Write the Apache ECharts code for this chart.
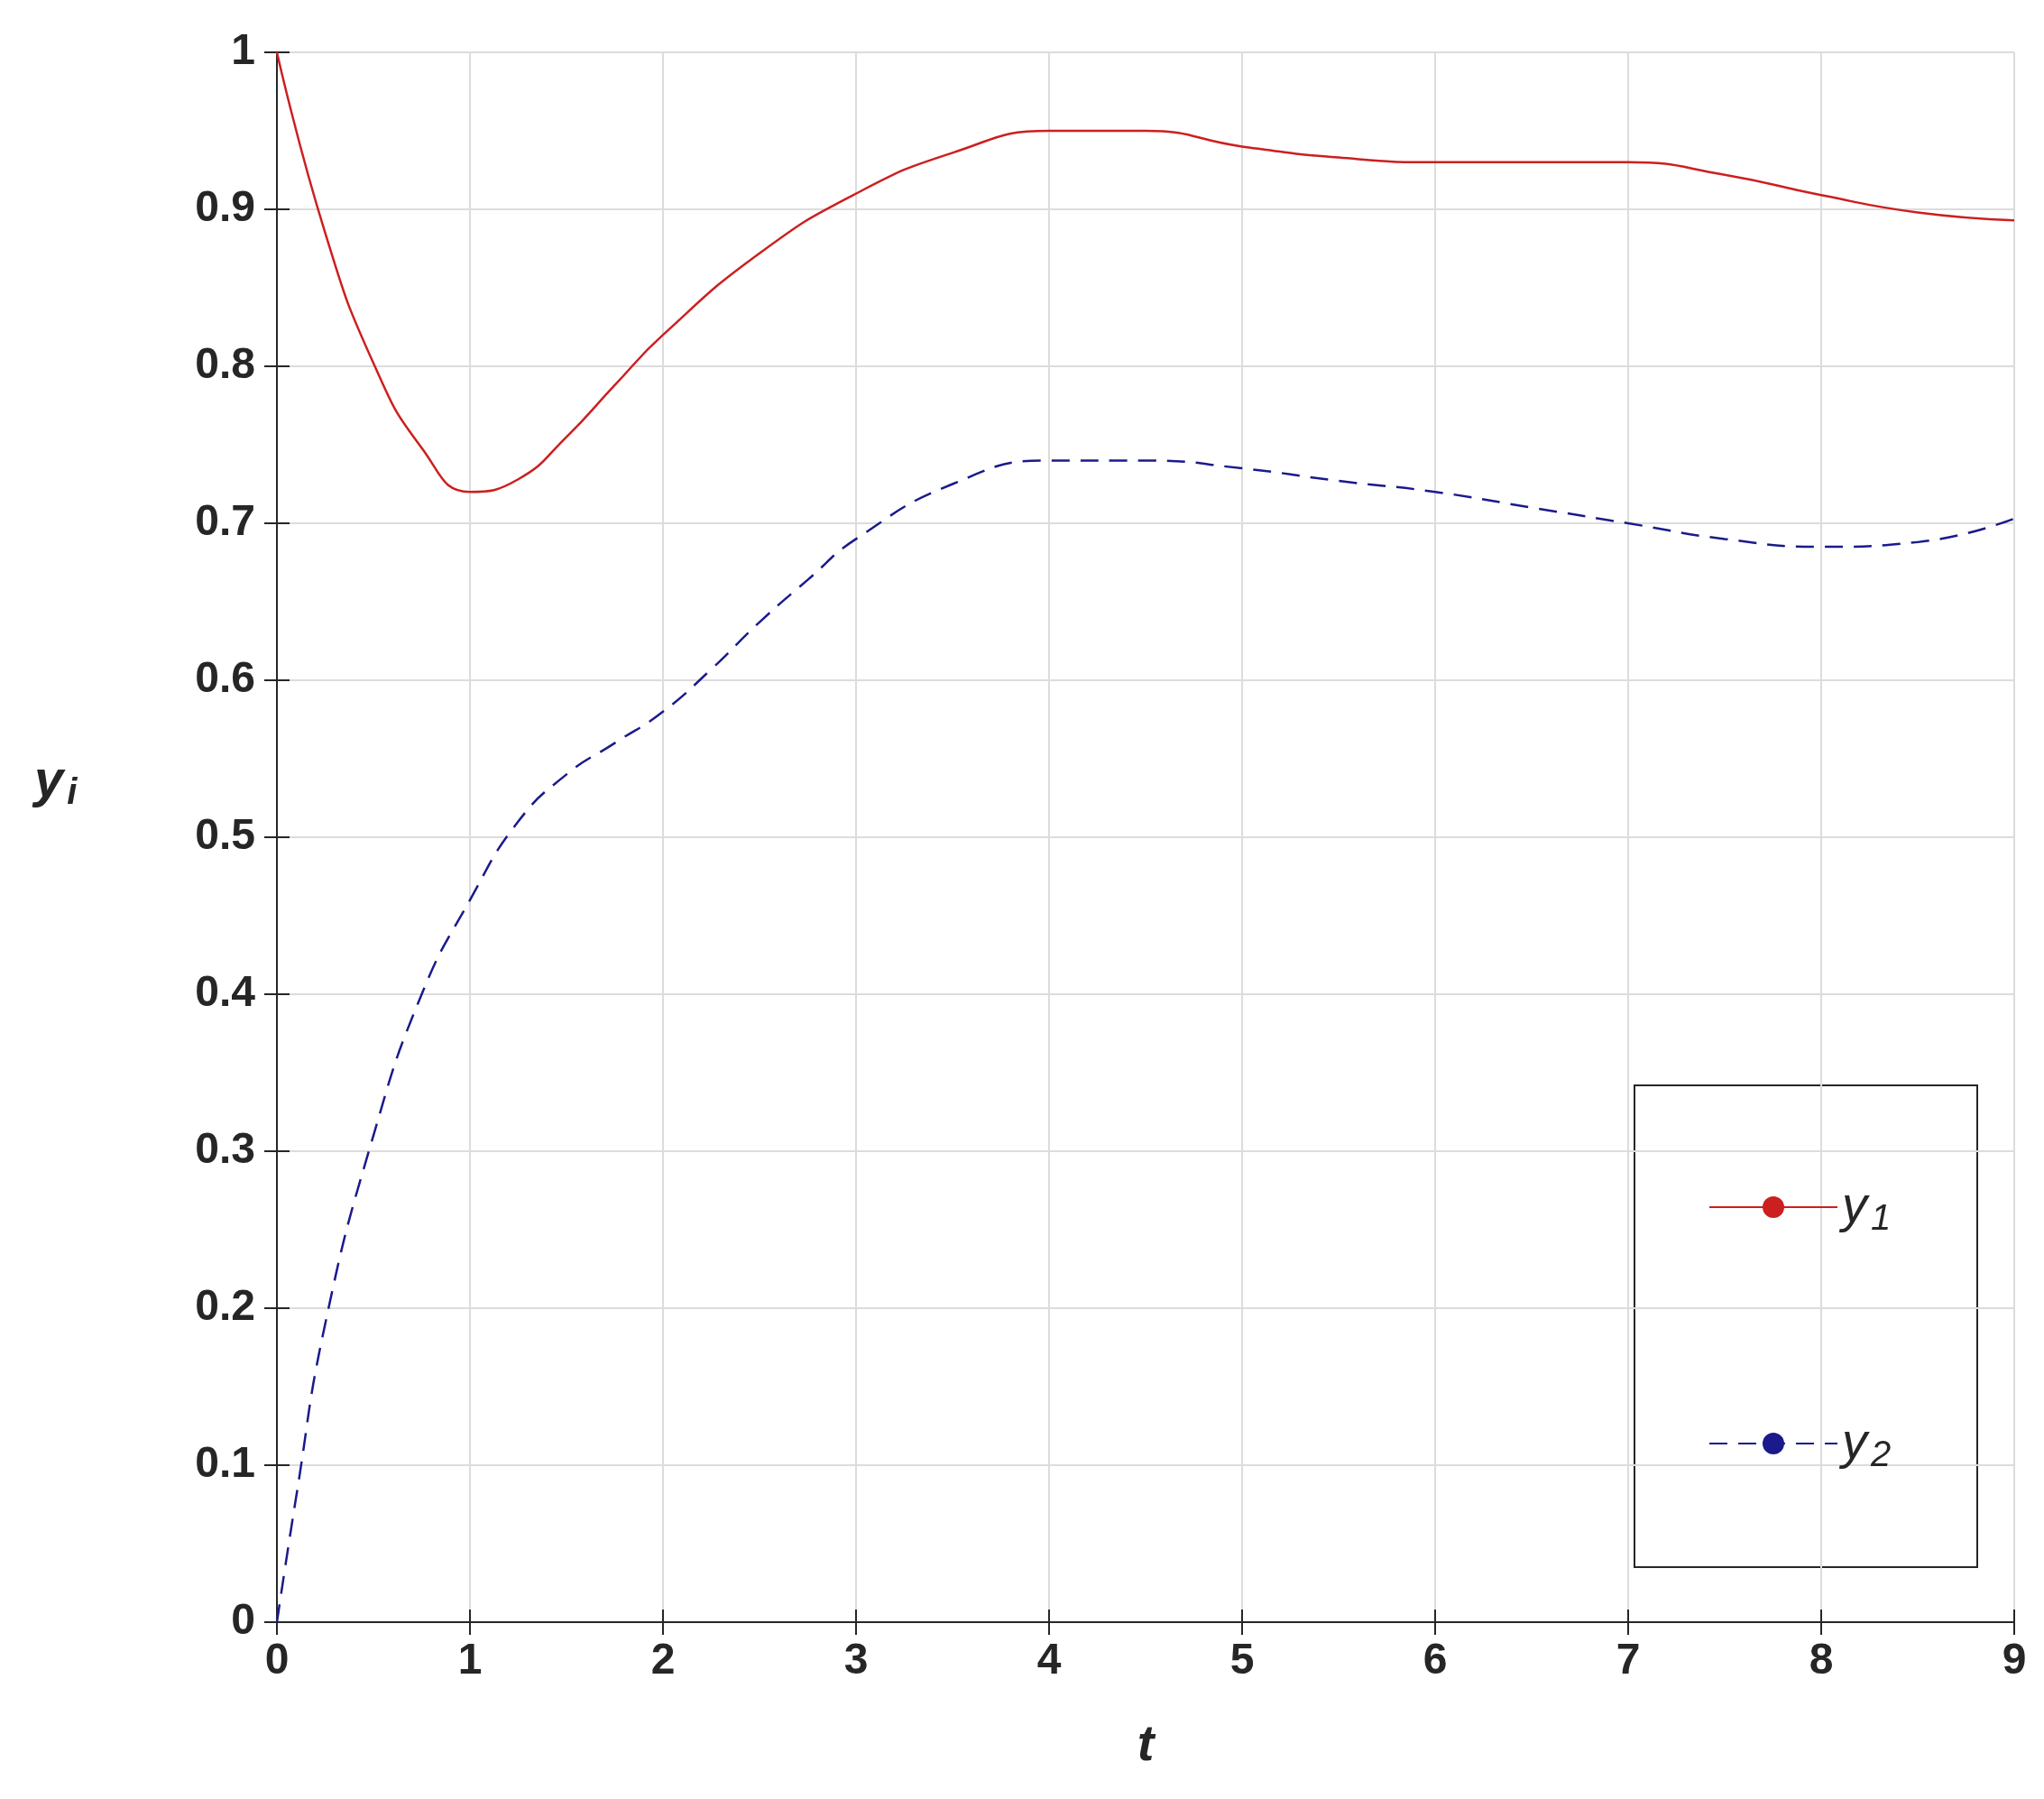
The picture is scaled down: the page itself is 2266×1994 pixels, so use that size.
<!DOCTYPE html>
<html><head><meta charset="utf-8">
<script src="https://cdn.jsdelivr.net/npm/echarts@6/dist/echarts.min.js"></script>
<style>html,body{margin:0;background:#fff}#c{width:2266px;height:1994px}</style>
</head><body><div id="c"></div>
<script>
var tY1 = [0,0.25,0.5,0.75,1,1.25,1.5,1.75,2,2.5,3,3.5,4,4.5,5,5.5,6,6.5,7,7.5,8,8.5,9];
var y1 = [1.0,0.885,0.802,0.748,0.72,0.728,0.755,0.788,0.82,0.872,0.91,0.936,0.95,0.95,0.94,0.933,0.93,0.93,0.93,0.922,0.909,0.898,0.893];
var tY2 = [0,0.1,0.25,0.5,0.75,1,1.25,1.5,1.75,2,2.25,2.5,2.75,3,3.5,4,4.5,5,5.5,6,6.5,7,7.5,8,8.5,9];
var y2 = [0,0.08,0.19,0.31,0.4,0.46,0.51,0.54,0.56,0.58,0.607,0.637,0.664,0.69,0.725,0.74,0.74,0.735,0.727,0.72,0.71,0.70,0.69,0.685,0.688,0.703];

function pairs(xs, ys){ return xs.map(function(x,i){ return [x, ys[i]]; }); }

var labelFont = {color:'#262626', fontSize:48, fontWeight:'bold', fontFamily:'Liberation Sans'};
var chart = echarts.init(document.getElementById('c'));
chart.setOption({
	animation:false,
	grid:{left:307, right:33, top:58, bottom:196},
	xAxis:[
		{type:'value', min:0, max:9, interval:1, axisLine:{lineStyle:{color:'#262626', width:2}},
		 axisTick:{inside:true, length:14, lineStyle:{color:'#262626', width:2}},
		 axisLabel:Object.assign({margin:20}, labelFont),
		 splitLine:{lineStyle:{color:'#dcdcdc', width:2}},
		 name:'t', nameLocation:'middle', nameGap:110,
		 nameTextStyle:{fontSize:56, fontStyle:'italic', fontWeight:'bold', color:'#262626', fontFamily:'Liberation Sans'}},
		{type:'value', min:0, max:9, interval:1, position:'top', axisLine:{lineStyle:{color:'#262626', width:2}},
		 axisTick:{inside:true, length:14, lineStyle:{color:'#262626', width:2}}, axisLabel:{show:false}, splitLine:{show:false}}
	],
	yAxis:[
		{type:'value', min:0, max:1, interval:0.1, axisLine:{show:true, lineStyle:{color:'#262626', width:2}},
		 axisTick:{show:true, inside:true, length:14, lineStyle:{color:'#262626', width:2}},
		 axisLabel:Object.assign({margin:24, formatter:function(v){ return v===0||v===1 ? String(v) : v.toFixed(1); }}, labelFont),
		 splitLine:{lineStyle:{color:'#dcdcdc', width:2}}},
		{type:'value', min:0, max:1, interval:0.1, position:'right', axisLine:{show:true, lineStyle:{color:'#262626', width:2}},
		 axisTick:{show:true, inside:true, length:14, lineStyle:{color:'#262626', width:2}}, axisLabel:{show:false}, splitLine:{show:false}}
	],
	graphic:[
		{type:'text', left:38, top:838, style:{text:'{a|y}{b|i}', rich:{
			a:{fontSize:58, fontStyle:'italic', fontWeight:'bold', fill:'#262626', fontFamily:'Liberation Sans'},
			b:{fontSize:40, fontStyle:'italic', fontWeight:'bold', fill:'#262626', fontFamily:'Liberation Sans', padding:[26,0,0,4]}}}},
		{type:'rect', z:-1, shape:{x:1812, y:1203, width:380, height:534}, style:{fill:'#fff', stroke:'#262626', lineWidth:2}}
	],
	legend:{
		left:1889, top:1305, orient:'vertical', itemWidth:142, itemHeight:30, itemGap:200,
		data:['y1','y2'],
		formatter:function(n){ return '{a|y}{b|' + n.slice(1) + '}'; },
		textStyle:{rich:{
			a:{fontSize:56, fontStyle:'italic', color:'#262626', fontFamily:'Liberation Sans'},
			b:{fontSize:40, fontStyle:'italic', color:'#262626', fontFamily:'Liberation Sans', padding:[28,0,0,4]}}}
	},
	series:[
		{name:'y1', type:'line', smooth:0.5, showSymbol:false, symbol:'none', data:pairs(tY1, y1),
		 lineStyle:{color:'#cc1f1f', width:2.5}, itemStyle:{color:'#cc1f1f'}},
		{name:'y2', type:'line', smooth:0.5, showSymbol:false, symbol:'none', data:pairs(tY2, y2),
		 lineStyle:{color:'#1a1a8c', width:2.5, type:[20,12]}, itemStyle:{color:'#1a1a8c'}}
	]
});
</script></body></html>
